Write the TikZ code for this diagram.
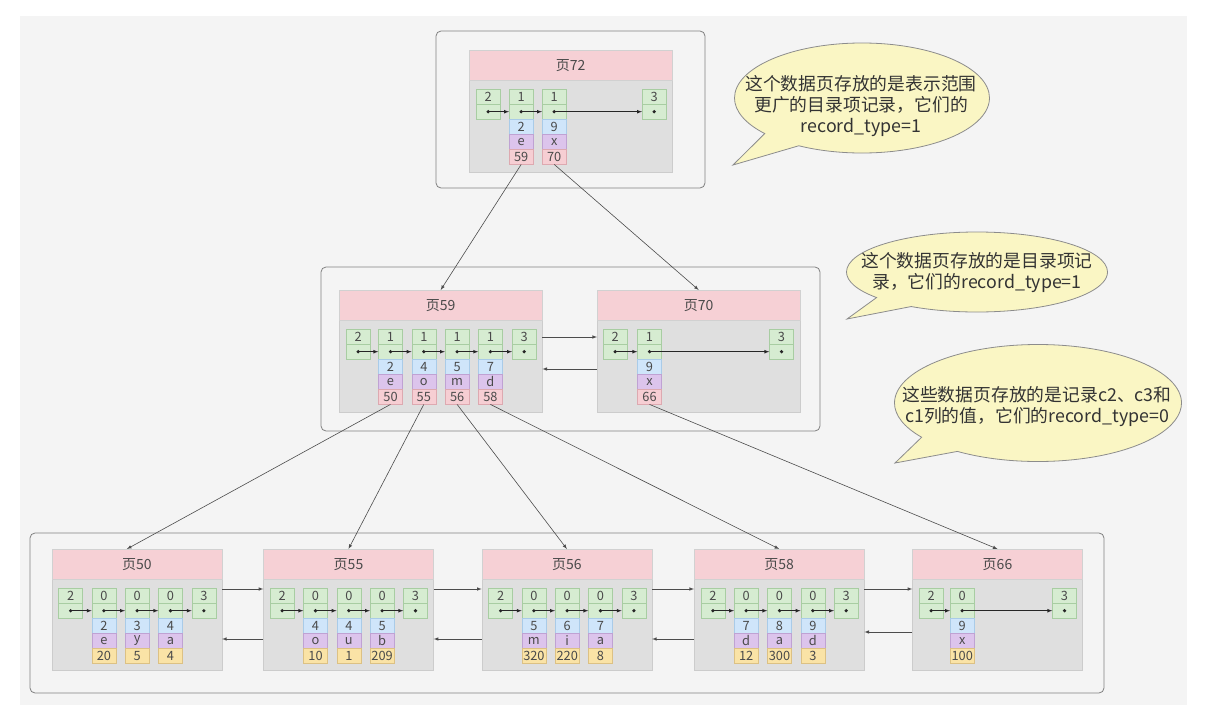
\documentclass[tikz,border=0pt]{standalone}
\usepackage{fontspec}
\setmainfont{Noto Sans CJK SC}
\usetikzlibrary{shapes.callouts,calc}
\definecolor{grn}{HTML}{D6ECD1}
\definecolor{grnD}{HTML}{A8CDA2}
\definecolor{blu}{HTML}{CFE5FA}
\definecolor{bluD}{HTML}{A9CBE8}
\definecolor{pur}{HTML}{DCC4EC}
\definecolor{purD}{HTML}{BFA2D3}
\definecolor{pnk}{HTML}{F6CED3}
\definecolor{pnkD}{HTML}{DDA9B0}
\definecolor{ylw}{HTML}{FAE3A6}
\definecolor{ylwD}{HTML}{DCC184}
\definecolor{hdrc}{HTML}{F6D0D5}
\definecolor{bodyc}{HTML}{DFDFDF}
\definecolor{panel}{HTML}{F4F4F4}
\definecolor{bub}{HTML}{FAF6C4}
\definecolor{txt}{HTML}{4A4A4A}

\begin{document}
\begin{tikzpicture}[x=1pt, y=-1pt, >=latex]
	\tikzset{
		cell/.style={draw=#1D, fill=#1, anchor=north west, inner sep=0,
				minimum width=24, minimum height=15, text=txt,
				font=\fontsize{12.8}{13}\selectfont},
		hdr/.style={fill=hdrc, draw=black!18, anchor=north, inner sep=0,
				minimum height=30, text=txt, font=\fontsize{14}{14}\selectfont},
		pagebody/.style={fill=bodyc, draw=black!20, anchor=north west, inner sep=0},
		frame/.style={draw=black!50, fill=panel, rounded corners=5, line width=0.8pt},
		ptr/.style={->, draw=black!85, line width=0.7pt},
		link/.style={->, draw=black!70, line width=0.6pt},
		bubble/.style={ellipse callout, draw=black!45, fill=bub, line width=0.8pt,
				inner sep=0, callout pointer arc=20},
		bubtext/.style={align=center, text=black!80, font=\fontsize{17.8}{21}\selectfont},
		pics/rec/.style n args={5}{code={
						\node[cell=grn] (-t) at (0,0) {#1};
						\node[cell=grn] (-n) at (0,15) {};
						\node[cell=blu] (-k) at (0,30) {#2};
						\node[cell=pur] (-c) at (0,45) {#3};
						\node[cell=#5] (-p) at (0,60) {#4};
						\fill[black!85] (-n.center) circle (1.8);
					}},
		pics/ends/.style={code={
						\node[cell=grn] (-t) at (0,0) {#1};
						\node[cell=grn] (-n) at (0,15) {};
						\fill[black!85] (-n.center) circle (1.8);
					}},
	}
	\useasboundingbox (0,0) rectangle (1221,720);
	\fill[white] (0,0) rectangle (1221,720);
	\fill[panel] (20,16) rectangle (1187,705);

	% frames round the three levels
	\draw[frame] (436,31) rectangle (705,188);
	\draw[frame] (321,267) rectangle (820,431);
	\draw[frame] (30,533) rectangle (1104,693);

	% top level
	\node[pagebody, minimum width=203, minimum height=122] (p72) at (469,50) {};
	\node[hdr, minimum width=203] (h72) at (p72.north) {页72};
	\pic (p72i) at (476,89) {ends=2};
	\pic (p72r1) at (509,89) {rec={1}{2}{e}{59}{pnk}};
	\pic (p72r2) at (542,89) {rec={1}{9}{x}{70}{pnk}};
	\pic (p72s) at (642,89) {ends=3};
	\foreach \a/\b in {i/r1,r1/r2,r2/s}
	\draw[ptr] (p72\a-n.center) -- (p72\b-n.west);

	% middle level
	\node[pagebody, minimum width=203, minimum height=122] (p59) at (339,290) {};
	\node[hdr, minimum width=203] (h59) at (p59.north) {页59};
	\pic (p59i) at (346,329) {ends=2};
	\foreach \k/\c/\v [count=\j] in {2/e/50,4/o/55,5/m/56,7/d/58}
	\pic (p59r\j) at ({378.3+33.3*(\j-1)},329) {rec={1}{\k}{\c}{\v}{pnk}};
	\pic (p59s) at (512,329) {ends=3};
	\foreach \a/\b in {i/r1,r1/r2,r2/r3,r3/r4,r4/s}
	\draw[ptr] (p59\a-n.center) -- (p59\b-n.west);

	\node[pagebody, minimum width=203, minimum height=122] (p70) at (597,290) {};
	\node[hdr, minimum width=203] (h70) at (p70.north) {页70};
	\pic (p70i) at (603,329) {ends=2};
	\pic (p70r1) at (637.3,329) {rec={1}{9}{x}{66}{pnk}};
	\pic (p70s) at (769.3,329) {ends=3};
	\foreach \a/\b in {i/r1,r1/s}
	\draw[ptr] (p70\a-n.center) -- (p70\b-n.west);

	\draw[link] ([yshift=-47pt]p59.north east) -- ([yshift=-47pt]p70.north west);
	\draw[link] ([yshift=-79pt]p70.north west) -- ([yshift=-79pt]p59.north east);

	% leaf level
	\foreach \nm/\pl in {50/51.7,55/263.3,56/481.7,58/694,66/912.3}{
			\node[pagebody, minimum width=170, minimum height=121] (p\nm) at (\pl,549) {};
			\node[hdr, minimum width=170] (h\nm) at (p\nm.north) {页\nm};
			\pic (p\nm i) at (\pl+6.7,588) {ends=2};
			\pic (p\nm s) at (\pl+140,588) {ends=3};
		}
	\foreach \k/\c/\v [count=\j] in {2/e/20,3/y/5,4/a/4}
	\pic (p50r\j) at ({51.7+40+33.3*(\j-1)},588) {rec={0}{\k}{\c}{\v}{ylw}};
	\foreach \k/\c/\v [count=\j] in {4/o/10,4/u/1,5/b/209}
	\pic (p55r\j) at ({263.3+40+33.3*(\j-1)},588) {rec={0}{\k}{\c}{\v}{ylw}};
	\foreach \k/\c/\v [count=\j] in {5/m/320,6/i/220,7/a/8}
	\pic (p56r\j) at ({481.7+40+33.3*(\j-1)},588) {rec={0}{\k}{\c}{\v}{ylw}};
	\foreach \k/\c/\v [count=\j] in {7/d/12,8/a/300,9/d/3}
	\pic (p58r\j) at ({694+40+33.3*(\j-1)},588) {rec={0}{\k}{\c}{\v}{ylw}};
	\pic (p66r1) at (950,588) {rec={0}{9}{x}{100}{ylw}};

	\foreach \nm in {50,55,56,58}
		{
			\foreach \a/\b in {i/r1,r1/r2,r2/r3,r3/s}
			\draw[ptr] (p\nm\a-n.center) -- (p\nm\b-n.west);
		}
	\foreach \a/\b in {i/r1,r1/s}
	\draw[ptr] (p66\a-n.center) -- (p66\b-n.west);

	\foreach \l/\r/\lo in {50/55/90,55/56/90,56/58/90,58/66/83}
		{
			\draw[link] ([yshift=-40pt]p\l.north east) -- ([yshift=-40pt]p\r.north west);
			\draw[link] ([yshift=-\lo pt]p\r.north west) -- ([yshift=-\lo pt]p\l.north east);
		}

	% child pointers
	\draw[link] (p72r1-p.south) -- (p59.north);
	\draw[link] (p72r2-p.south) -- (p70.north);
	\draw[link] (p59r1-p.south) -- ($(p50.north)+(-10,0)$);
	\draw[link] (p59r2-p.south) -- (p55.north);
	\draw[link] (p59r3-p.south) -- (p56.north);
	\draw[link] (p59r4-p.south) -- (p58.north);
	\draw[link] (p70r1-p.south) -- (p66.north);

	% notes
	\node[bubble, minimum width=255, minimum height=110,
		callout absolute pointer={(733,165)}] (b1) at (862,98) {};
	\node[bubtext] (b1t) at (861,106) {这个数据页存放的是表示范围\\更广的目录项记录，它们的\\record\_type=1};
	\node[bubble, minimum width=261, minimum height=80,
		callout absolute pointer={(847,319)}] (b2) at (977,272) {};
	\node[bubtext] (b2t) at (977,273) {这个数据页存放的是目录项记\\录，它们的record\_type=1};
	\node[bubble, minimum width=287, minimum height=117,
		callout absolute pointer={(895,463)}] (b3) at (1038,403) {};
	\node[bubtext] (b3t) at (1037,407) {这些数据页存放的是记录c2、c3和\\c1列的值，它们的record\_type=0};
\end{tikzpicture}
\end{document}
